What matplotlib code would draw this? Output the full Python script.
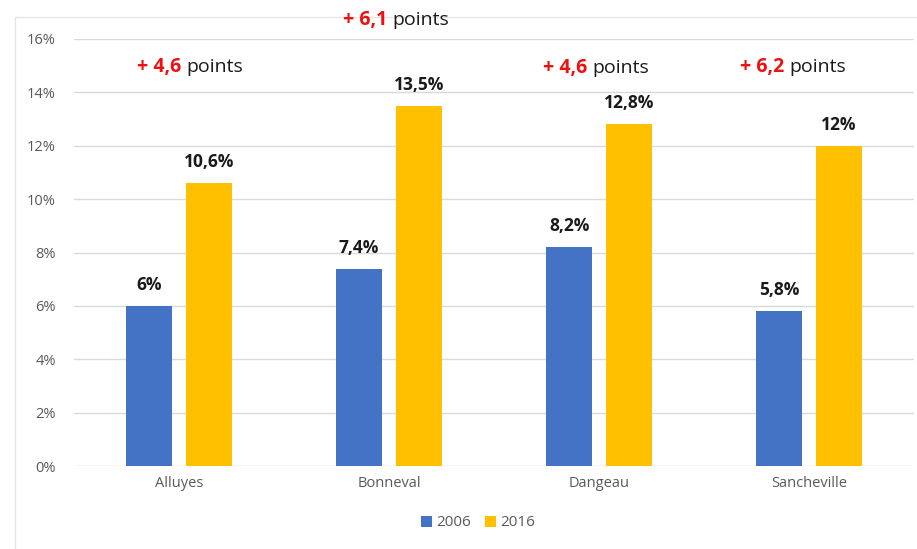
import matplotlib.pyplot as plt
from matplotlib.patches import Rectangle
import numpy as np

plt.rcParams['font.family'] = ['Open Sans', 'DejaVu Sans']

communes = ['Alluyes', 'Bonneval', 'Dangeau', 'Sancheville']
v2006 = [6.0, 7.4, 8.2, 5.8]
v2016 = [10.6, 13.5, 12.8, 12.0]
lab2006 = ['6%', '7,4%', '8,2%', '5,8%']
lab2016 = ['10,6%', '13,5%', '12,8%', '12%']
gains = ['4,6', '6,1', '4,6', '6,2']
gain_y = [14.95, 16.71, 14.91, 14.95]
gain_dx = [0.033, 0.014, -0.033, -0.095]

blue = '#4472C4'
orange = '#FFC000'

fig = plt.figure(figsize=(9.17, 5.49), dpi=100)
# faint outer frame, behind everything
fig.patches.append(Rectangle((15/917, -0.1), 1.2, 1 - 17/549 + 0.1, transform=fig.transFigure,
                             fill=False, edgecolor='#e6e6e6', lw=1.0, zorder=-1))
ax = fig.add_axes([74/917, 1 - 466/549, 840/917, (466 - 39)/549])

x = np.arange(len(communes))
w = 0.22
off = 0.1425
ax.bar(x - off, v2006, w, color=blue, label='2006', zorder=3)
ax.bar(x + off, v2016, w, color=orange, label='2016', zorder=3)

for i in range(len(communes)):
    ax.text(x[i] - off, v2006[i] + 0.45, lab2006[i], ha='center', va='bottom',
            fontsize=12.5, fontweight='bold', color='#1a1a1a')
    ax.text(x[i] + off, v2016[i] + 0.45, lab2016[i], ha='center', va='bottom',
            fontsize=12.5, fontweight='bold', color='#1a1a1a')
    ax.text(x[i] + gain_dx[i], gain_y[i], '+ ' + gains[i] + ' ', ha='right', va='center',
            fontsize=14, fontweight='bold', color='#ee1111', clip_on=False, zorder=5)
    ax.text(x[i] + gain_dx[i], gain_y[i], 'points', ha='left', va='center',
            fontsize=14, color='#1a1a1a', clip_on=False, zorder=5)

ax.set_xlim(-0.5, 3.5)
ax.set_ylim(0, 16)
ax.set_yticks(np.arange(0, 17, 2))
ax.set_yticklabels([str(v) + '%' for v in range(0, 17, 2)])
ax.set_xticks(x)
ax.set_xticklabels(communes)
ax.tick_params(axis='both', length=0, labelsize=10.5, labelcolor='#595959')
ax.tick_params(axis='y', pad=13)
ax.tick_params(axis='x', pad=7)
ax.grid(True, axis='y', color='#d9d9d9', lw=1, zorder=0)
for s in ax.spines.values():
    s.set_visible(False)

ax.legend(loc='center', bbox_to_anchor=(478/917, 1 - 523/549), bbox_transform=fig.transFigure,
          ncol=2, frameon=False, fontsize=11, labelcolor='#595959', handlelength=0.7,
          handleheight=0.7, handletextpad=0.3, columnspacing=0.9)

fig.savefig('out.png', dpi=100)
